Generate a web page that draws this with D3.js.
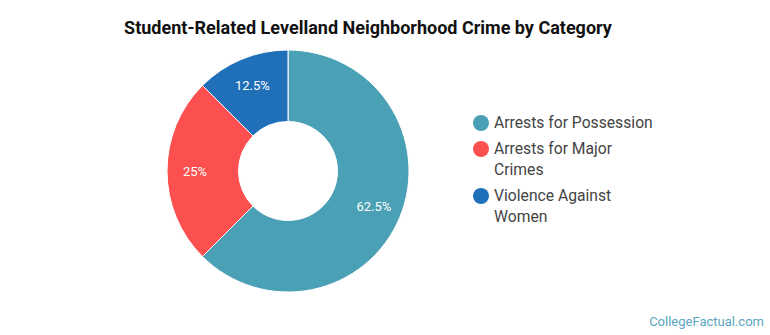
<!DOCTYPE html>
<html>
<head>
<meta charset="utf-8">
<script src="https://cdn.jsdelivr.net/npm/d3@7"></script>
<style>
  body { margin: 0; background: #fff; }
  text { font-family: Roboto, "Open Sans", sans-serif; }
</style>
</head>
<body>
<script>
// donut of crime categories

var categories = ['Arrests for Possession', 'Arrests for Major Crimes', 'Violence Against Women'],
    legendLines = [['Arrests for Possession'], ['Arrests for Major', 'Crimes'], ['Violence Against', 'Women']],
    values = [62.5, 25, 12.5],
    labels = ['62.5%', '25%', '12.5%'],
    colors = ['#4aa0b4', '#fc5050', '#1f6fb9'];

var width = 770,
    height = 335,
    cx = 288,
    cy = 171,
    rOuter = 121,
    rInner = 49.5,
    rLabel = 93;

var svg = d3.select('body').append('svg')
  .attr('width', width)
  .attr('height', height);

svg.append('text')
  .attr('x', 368)
  .attr('y', 34)
  .attr('text-anchor', 'middle')
  .attr('font-size', 18)
  .attr('font-weight', 'bold')
  .attr('fill', '#111')
  .text('Student-Related Levelland Neighborhood Crime by Category');

var pie = d3.pie().sort(null).value(function(d){ return d; });
var arc = d3.arc().innerRadius(rInner).outerRadius(rOuter);
var labelArc = d3.arc().innerRadius(rLabel).outerRadius(rLabel);

var g = svg.append('g').attr('transform', 'translate(' + cx + ',' + cy + ')');
var slices = pie(values);

g.selectAll('path').data(slices).enter().append('path')
  .attr('d', arc)
  .attr('fill', function(d, i){ return colors[i]; })
  .attr('stroke', '#fff')
  .attr('stroke-width', 1);

g.selectAll('text.lbl').data(slices).enter().append('text')
  .attr('class', 'lbl')
  .attr('transform', function(d){ return 'translate(' + labelArc.centroid(d) + ')'; })
  .attr('text-anchor', 'middle')
  .attr('dy', '0.35em')
  .attr('font-size', 13)
  .attr('fill', '#fff')
  .text(function(d, i){ return labels[i]; });

// legend
var legendY = [123, 149, 196];
var legend = svg.append('g');
categories.forEach(function(c, i){
  legend.append('circle')
    .attr('cx', 481)
    .attr('cy', legendY[i])
    .attr('r', 8)
    .attr('fill', colors[i]);
  var t = legend.append('text')
    .attr('x', 494)
    .attr('y', legendY[i])
    .attr('font-size', 15.7)
    .attr('fill', '#444');
  legendLines[i].forEach(function(line, j){
    t.append('tspan')
      .attr('x', 494)
      .attr('dy', j === 0 ? '0.35em' : 21)
      .text(line);
  });
});

svg.append('text')
  .attr('x', 764)
  .attr('y', 326)
  .attr('text-anchor', 'end')
  .attr('font-size', 13)
  .attr('fill', '#5aa5bd')
  .text('CollegeFactual.com');
</script>
</body>
</html>
